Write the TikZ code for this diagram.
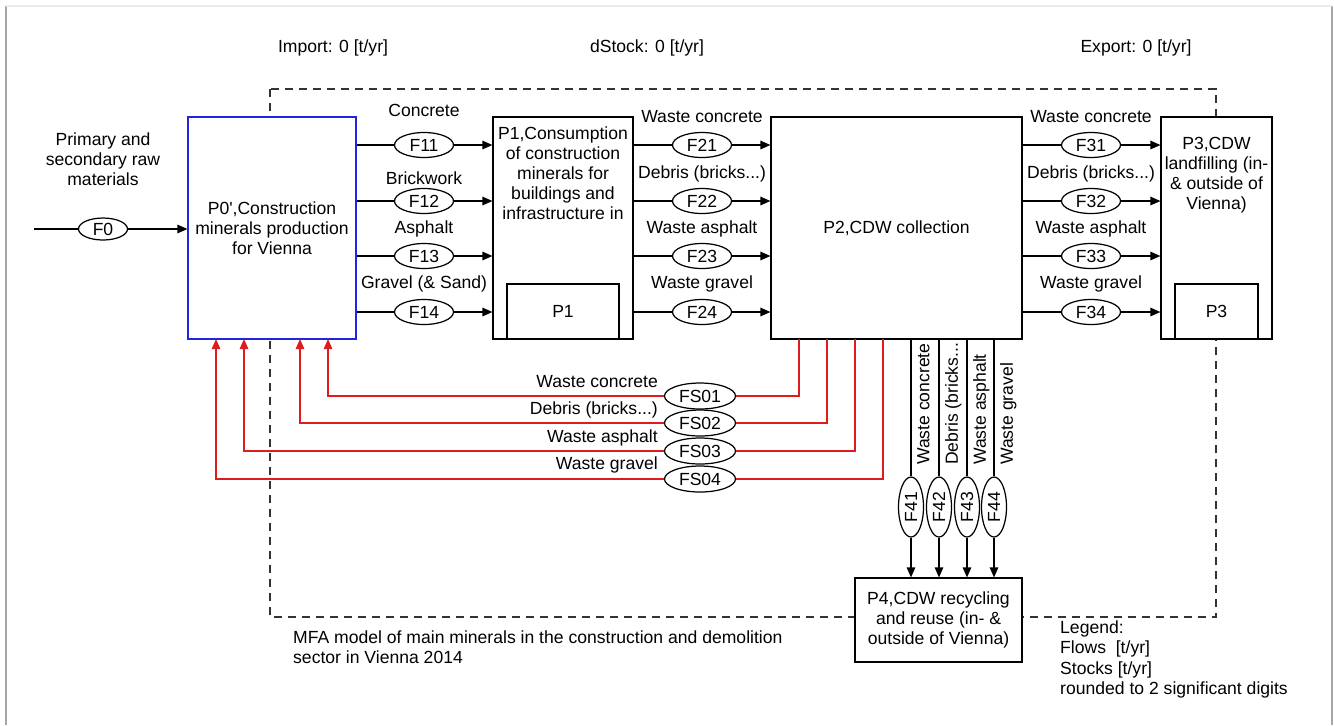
\documentclass[tikz,border=0pt]{standalone}
\usepackage{fontspec}
\setmainfont{Liberation Sans}
\usetikzlibrary{shapes.geometric,arrows.meta}

\definecolor{recred}{RGB}{222,28,28}
\definecolor{boxblue}{RGB}{36,36,224}

\begin{document}
\begin{tikzpicture}[x=0.02cm,y=-0.02cm,
   font=\fontsize{10}{11.4}\selectfont,
   box/.style={rectangle,draw,fill=white,line width=0.7pt,inner sep=+0pt},
   flow/.style={ellipse,draw,fill=white,line width=0.7pt,
    minimum width=1.18cm,minimum height=0.5cm,inner sep=+0pt},
   sflow/.style={flow,minimum width=1.42cm,minimum height=0.52cm},
   vflow/.style={flow,rotate=90,minimum width=1.2cm},
   fl/.style={line width=0.7pt,-{Triangle[length=0.2cm,width=0.17cm]}},
   rfl/.style={recred,line width=0.7pt,-{Triangle[length=0.2cm,width=0.17cm]}},
   sysline/.style={black!80,line width=0.6pt,dash pattern=on 0.16cm off 0.12cm}
    ]

    \useasboundingbox (0,0) rectangle (1334,725);

    % frame:
    \draw[black!35,line width=0.8pt] (6,6) -- (6,725);
    \draw[black!35,line width=0.8pt] (1332,6) -- (1332,725);
    \draw[black!8,line width=0.8pt] (6,6) -- (1332,6);

    % system boundary:
    \draw[sysline] (270,89) rectangle (1216,617);

    % header:
    \node at (333,48) (imp) {Import: 0 [t/yr]};
    \node at (647,48) (dst) {dStock: 0 [t/yr]};
    \node at (1136,48) (exp) {Export: 0 [t/yr]};

    % processes:
    \node[box,draw=boxblue,minimum width=3.36cm,minimum height=4.44cm,align=center] at (272,228) (P0)
      {P0\textquotesingle,Construction\\minerals production\\for Vienna};
    \node[box,minimum width=2.8cm,minimum height=4.44cm] at (563,228) (P1) {};
    \node[align=center,anchor=north] at ([yshift=-0.08cm]P1.north) (P1t)
      {P1,Consumption\\of construction\\minerals for\\buildings and\\infrastructure in};
    \node[box,minimum width=2.24cm,minimum height=1.1cm,anchor=south] at (P1.south) (P1s) {P1};
    \node[box,minimum width=5.02cm,minimum height=4.44cm] at (896.5,228) (P2) {P2,CDW collection};
    \node[box,minimum width=2.22cm,minimum height=4.44cm] at (1216.5,228) (P3) {};
    \node[align=center,anchor=north] at ([yshift=-0.3cm]P3.north) (P3t)
      {P3,CDW\\landfilling (in-\\\& outside of\\Vienna)};
    \node[box,minimum width=1.66cm,minimum height=1.1cm,anchor=south] at (P3.south) (P3s) {P3};
    \node[box,minimum width=3.34cm,minimum height=1.68cm,align=center] at (938.5,620) (P4)
      {P4,CDW recycling\\and reuse (in- \&\\outside of Vienna)};

    % input:
    \coordinate (src) at (34,229);
    \node[align=center] at (103,159) (raw) {Primary and\\secondary raw\\materials};
    \node[flow,minimum width=0.98cm,minimum height=0.44cm] at (103,229) (F0) {F0};
    \draw[fl] (src) -- (F0) -- (F0 -| P0.west);

    % P0' -> P1:
    \node[flow] at (424,145) (F11) {F11};
    \node[flow] at (424,201) (F12) {F12};
    \node[flow] at (424,256) (F13) {F13};
    \node[flow] at (424,312) (F14) {F14};
    \node at (424,110) (l11) {Concrete};
    \node at (424,178) (l12) {Brickwork};
    \node at (424,229) (l13) {Asphalt};
    \node at (424,284) (l14) {Gravel (\& Sand)};
    \draw[fl] (P0.east |- F11) -- (F11) -- (F11 -| P1.west);
    \draw[fl] (P0.east |- F12) -- (F12) -- (F12 -| P1.west);
    \draw[fl] (P0.east |- F13) -- (F13) -- (F13 -| P1.west);
    \draw[fl] (P0.east |- F14) -- (F14) -- (F14 -| P1.west);

    % P1 -> P2:
    \node[flow] at (702,145) (F21) {F21};
    \node[flow] at (702,201) (F22) {F22};
    \node[flow] at (702,256) (F23) {F23};
    \node[flow] at (702,312) (F24) {F24};
    \node at (702,117) (l21) {Waste concrete};
    \node at (702,174) (l22) {Debris (bricks...)};
    \node at (702,229) (l23) {Waste asphalt};
    \node at (702,284) (l24) {Waste gravel};
    \draw[fl] (P1.east |- F21) -- (F21) -- (F21 -| P2.west);
    \draw[fl] (P1.east |- F22) -- (F22) -- (F22 -| P2.west);
    \draw[fl] (P1.east |- F23) -- (F23) -- (F23 -| P2.west);
    \draw[fl] (P1.east |- F24) -- (F24) -- (F24 -| P2.west);

    % P2 -> P3:
    \node[flow] at (1091,145) (F31) {F31};
    \node[flow] at (1091,201) (F32) {F32};
    \node[flow] at (1091,256) (F33) {F33};
    \node[flow] at (1091,312) (F34) {F34};
    \node at (1091,117) (l31) {Waste concrete};
    \node at (1091,174) (l32) {Debris (bricks...)};
    \node at (1091,229) (l33) {Waste asphalt};
    \node at (1091,284) (l34) {Waste gravel};
    \draw[fl] (P2.east |- F31) -- (F31) -- (F31 -| P3.west);
    \draw[fl] (P2.east |- F32) -- (F32) -- (F32 -| P3.west);
    \draw[fl] (P2.east |- F33) -- (F33) -- (F33 -| P3.west);
    \draw[fl] (P2.east |- F34) -- (F34) -- (F34 -| P3.west);

    % P2 -> P0' (secondary):
    \coordinate (s1) at (799,339);
    \coordinate (s2) at (827,339);
    \coordinate (s3) at (855,339);
    \coordinate (s4) at (883,339);
    \coordinate (d1) at (328,339);
    \coordinate (d2) at (300,339);
    \coordinate (d3) at (244,339);
    \coordinate (d4) at (216,339);
    \node[sflow] at (700,396) (FS01) {FS01};
    \node[sflow] at (700,423) (FS02) {FS02};
    \node[sflow] at (700,451) (FS03) {FS03};
    \node[sflow] at (700,479) (FS04) {FS04};
    \node[anchor=east] at (664,382) (ls1) {Waste concrete};
    \node[anchor=east] at (664,410) (ls2) {Debris (bricks...)};
    \node[anchor=east] at (664,438) (ls3) {Waste asphalt};
    \node[anchor=east] at (664,465) (ls4) {Waste gravel};
    \draw[rfl] (s1) |- (FS01) -| (d1);
    \draw[rfl] (s2) |- (FS02) -| (d2);
    \draw[rfl] (s3) |- (FS03) -| (d3);
    \draw[rfl] (s4) |- (FS04) -| (d4);

    % P2 -> P4:
    \coordinate (t41) at (911,339);
    \coordinate (t42) at (939,339);
    \coordinate (t43) at (967,339);
    \coordinate (t44) at (994,339);
    \node[vflow] at (911,507) (F41) {F41};
    \node[vflow] at (939,507) (F42) {F42};
    \node[vflow] at (967,507) (F43) {F43};
    \node[vflow] at (994,507) (F44) {F44};
    \node[rotate=90,anchor=north west] at (911,471) (l41) {Waste concrete};
    \node[rotate=90,anchor=north west] at (939,471) (l42) {Debris (bricks...};
    \node[rotate=90,anchor=north west] at (967,471) (l43) {Waste asphalt};
    \node[rotate=90,anchor=north west] at (994,471) (l44) {Waste gravel};
    \draw[fl] (t41) -- (F41) -- (F41 |- P4.north);
    \draw[fl] (t42) -- (F42) -- (F42 |- P4.north);
    \draw[fl] (t43) -- (F43) -- (F43 |- P4.north);
    \draw[fl] (t44) -- (F44) -- (F44 |- P4.north);

    % caption / legend:
    \node[align=left,anchor=west] at (287,647) (cap)
      {MFA model of main minerals in the construction and demolition\\sector in Vienna 2014};
    \node[align=left,anchor=north west] at (1054,615) (leg)
      {Legend:\\Flows~ [t/yr]\\Stocks [t/yr]\\rounded to 2 significant digits};

\end{tikzpicture}
\end{document}
